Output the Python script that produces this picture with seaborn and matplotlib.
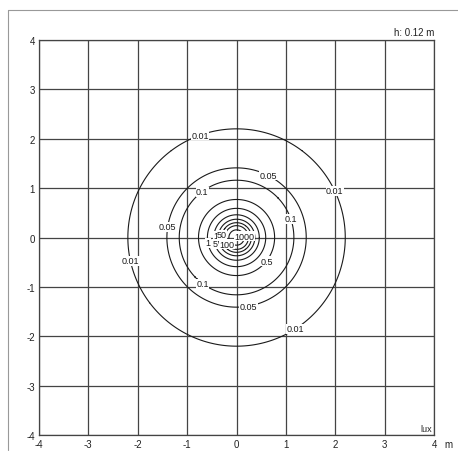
import numpy as np
import matplotlib
matplotlib.use("Agg")
import matplotlib.pyplot as plt
import seaborn as sns
from matplotlib.lines import Line2D

# isolux levels (lux) and the radius (m) where each closed curve sits
lux_levels = [0.01, 0.05, 0.1, 0.5, 1, 5, 10, 50, 100, 1000]
lux_radius = [2.20, 1.41, 1.16, 0.77, 0.59, 0.46, 0.37, 0.30, 0.24, 0.155]
lux_text = ["0.01", "0.05", "0.1", "0.5", "1", "5", "10", "50", "100", "1000"]

# where the labels sit on the curves (x, y in m)
label_pos = [
    (-0.73, 2.06), (2.00, 0.95), (-2.15, -0.47), (1.19, -1.85),   # 0.01
    (0.65, 1.28), (-1.42, 0.22), (0.25, -1.43),                   # 0.05
    (-0.71, 0.95), (1.12, 0.39), (-0.71, -0.96),                  # 0.1
    (0.62, -0.49),                                                # 0.5
    (-0.63, -0.12),                                               # 1
    (-0.42, -0.12),                                               # 5
    (-0.36, 0.03),                                                # 10
    (-0.27, 0.05),                                                # 50
    (-0.20, -0.14),                                               # 100
    (0.15, 0.03),                                                 # 1000
]

ticks = [-4, -3, -2, -1, 0, 1, 2, 3, 4]
height_note = "h: 0.12 m"

sns.set_style("white")
plt.rcParams["font.family"] = ["Liberation Sans", "DejaVu Sans"]

fig = plt.figure(figsize=(4.58, 4.60), dpi=100)
ax = fig.add_axes([0.085, 0.052, 0.863, 0.859])

grid_x = np.linspace(-4, 4, 1201)
X, Y = np.meshgrid(grid_x, grid_x)
R = np.hypot(X, Y)

order = np.argsort(lux_radius)
radii_sorted = [lux_radius[i] for i in order]
fmt = {lux_radius[i]: lux_text[i] for i in range(len(lux_levels))}

cs = ax.contour(X, Y, R, levels=radii_sorted, colors="#1a1a1a", linewidths=0.8)
labels = ax.clabel(cs, fmt=fmt, manual=label_pos, inline=False, fontsize=6.5,
                   colors="#1a1a1a")
for t in labels:
    t.set_rotation(0)
    t.set_bbox(dict(facecolor="white", edgecolor="none", pad=0.3))

ax.set_xlim(-4, 4)
ax.set_ylim(-4, 4)
ax.set_xticks(ticks)
ax.set_yticks(ticks)
ax.set_xticklabels([str(t) for t in ticks])
ax.set_yticklabels([str(t) for t in ticks])
ax.tick_params(length=0, labelsize=7, colors="#222222", pad=3)
ax.grid(True, color="#444444", linewidth=0.9)
ax.set_axisbelow(True)
for s in ax.spines.values():
    s.set_color("#444444")
    s.set_linewidth(0.9)

ax.text(1.0, 1.008, height_note, transform=ax.transAxes, ha="right", va="bottom",
        fontsize=7, color="#222222")
ax.text(0.995, 0.005, "lux", transform=ax.transAxes, ha="right", va="bottom",
        fontsize=6.5, color="#222222")
ax.text(1.025, -0.009, "m", transform=ax.transAxes, ha="left", va="top",
        fontsize=7, color="#222222")

# thin frame round the sheet (top and left edge)
fig.add_artist(Line2D([8 / 458, 1.0], [1 - 11 / 460, 1 - 11 / 460],
                      transform=fig.transFigure, color="#999999", linewidth=0.8))
fig.add_artist(Line2D([8 / 458, 8 / 458], [1 - 11 / 460, 1 - 451 / 460],
                      transform=fig.transFigure, color="#999999", linewidth=0.8))

fig.savefig("out.png", dpi=100)
